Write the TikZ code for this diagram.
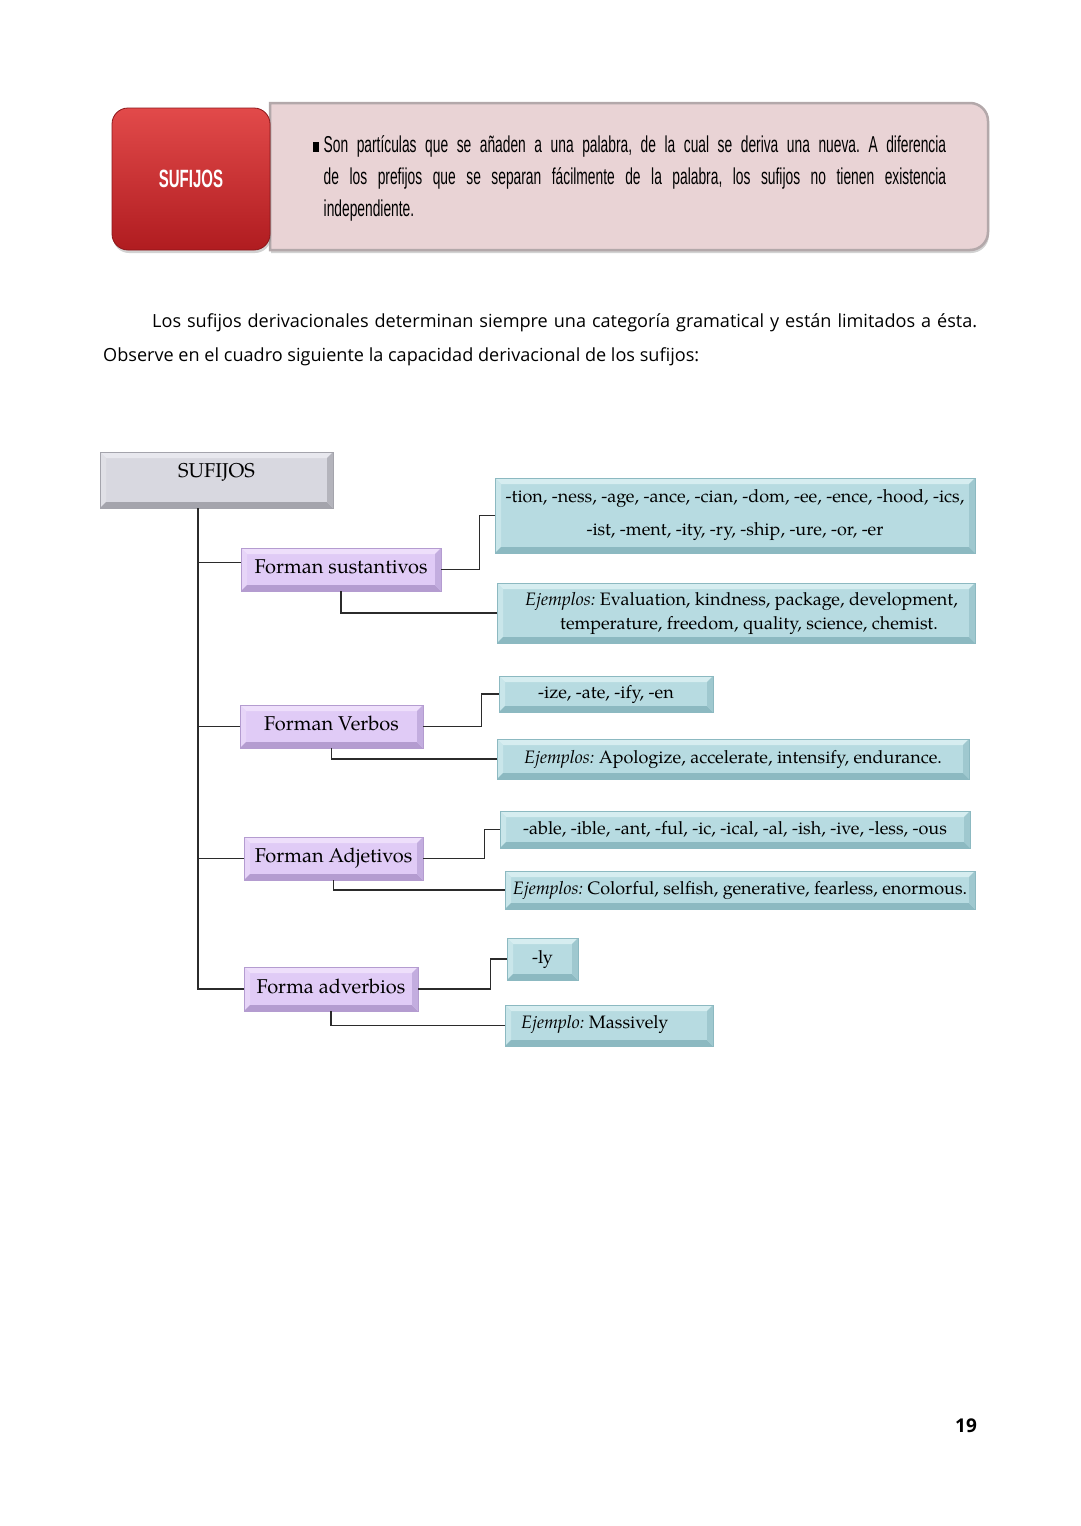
\documentclass[tikz,border=0pt]{standalone}
\usepackage{fontspec}
\setmainfont{TeX Gyre Pagella}
\newfontfamily\parafont{Open Sans}
\newfontfamily\condfont[FakeStretch=0.6]{Liberation Sans}
\usetikzlibrary{shadows,calc}
\frenchspacing
\definecolor{blueM}{HTML}{B7DBE1}
\definecolor{blueT}{HTML}{D6EDF0}
\definecolor{blueL}{HTML}{C9E6EA}
\definecolor{blueB}{HTML}{8CB9C1}
\definecolor{blueR}{HTML}{9FC8CF}
\definecolor{lavM}{HTML}{E0CBF6}
\definecolor{lavT}{HTML}{EEDFFB}
\definecolor{lavL}{HTML}{E7D5F8}
\definecolor{lavB}{HTML}{B49CD0}
\definecolor{lavR}{HTML}{C3ADDF}
\definecolor{grayM}{HTML}{D8D8E0}
\definecolor{grayT}{HTML}{E8E8EE}
\definecolor{grayL}{HTML}{E0E0E6}
\definecolor{grayB}{HTML}{A4A4AC}
\definecolor{grayR}{HTML}{B4B4BC}
\definecolor{redT}{HTML}{E24A4A}
\definecolor{redB}{HTML}{B01C20}
\definecolor{pinkM}{HTML}{E9D3D5}
\definecolor{pinkD}{HTML}{B3A8AA}
\definecolor{lineC}{HTML}{2B2B2B}
\tikzset{
  bev/.style={fill=#1M, draw=#1B, line width=0.8pt, inner sep=0pt, path picture={
    \path (path picture bounding box.north west) coordinate (pnw)
          (path picture bounding box.south east) coordinate (pse)
          (path picture bounding box.north east) coordinate (pne)
          (path picture bounding box.south west) coordinate (psw);
    \fill[#1T] (pnw) -- (pne) -- ([shift={(-6pt,-6pt)}]pne) -- ([shift={(6pt,-6pt)}]pnw) -- cycle;
    \fill[#1L] (pnw) -- ([shift={(6pt,-6pt)}]pnw) -- ([shift={(6pt,6pt)}]psw) -- (psw) -- cycle;
    \fill[#1B] (psw) -- ([shift={(6pt,6pt)}]psw) -- ([shift={(-6pt,6pt)}]pse) -- (pse) -- cycle;
    \fill[#1R] (pse) -- ([shift={(-6pt,6pt)}]pse) -- ([shift={(-6pt,-6pt)}]pne) -- (pne) -- cycle;
  }},
  sz/.style 2 args={minimum width=#1pt, minimum height=#2pt},
  lavbox/.style={bev=lav, font=\fontsize{20}{24}\selectfont, text height=14pt, text depth=6pt},
  bluebox/.style={bev=blue, font=\fontsize{18}{22}\selectfont, align=center},
  conn/.style={draw=lineC, line width=1.8pt},
}
\begin{document}
\begin{tikzpicture}[x=1pt,y=-1pt]
\useasboundingbox (0,0) rectangle (1080,1526);
\fill[white] (0,0) rectangle (1080,1526);

% header
\path[fill=pinkM, draw=pinkD, line width=2.5pt, drop shadow={opacity=0.35, shadow xshift=1pt, shadow yshift=-3pt}]
  (270,103) -- (970,103) arc[start angle=90, end angle=0, radius=18pt] -- (988,232)
  arc[start angle=0, end angle=-90, radius=18pt] -- (270,250) -- cycle;
\node[sz={158}{142}, inner sep=0pt, rounded corners=16pt, top color=redT, bottom color=redB,
  draw=redB!80!black, line width=0.8pt, drop shadow={opacity=0.35, shadow xshift=1pt, shadow yshift=-3pt},
  text=white, font=\condfont\bfseries\fontsize{25}{26}\selectfont] (hdr) at (191,179) {SUFIJOS};
\node[anchor=north west, text width=633pt, align=justify, inner sep=0pt,
  font=\condfont\fontsize{23}{32}\selectfont] (htext) at (313,135)
  {\hangindent=10.5pt\hangafter=1\noindent\makebox[10.5pt][l]{\rule[0pt]{6pt}{10pt}}Son partículas que se añaden a una palabra, de la cual se deriva una nueva. A diferencia\linebreak de los prefijos que se separan fácilmente de la palabra, los sufijos no tienen existencia\linebreak independiente.\par};

% paragraph
\node[anchor=north west, text width=874pt, align=justify, inner sep=0pt,
  font=\parafont\fontsize{18.1}{34}\selectfont] (para) at (103,313)
  {\hspace*{49pt}Los sufijos derivacionales determinan siempre una categoría gramatical y están limitados a ésta.\linebreak Observe en el cuadro siguiente la capacidad derivacional de los sufijos:\par};

% tree
\node[bev=gray, sz={233}{56}, text height=14pt, text depth=20pt,
  font=\fontsize{20}{24}\selectfont] (suf) at (216.5,480) {SUFIJOS};

\node[lavbox, sz={200}{43}] (sus) at (341,569.5) {Forman sustantivos};
\node[lavbox, sz={183}{43}] (verb) at (331.5,726.5) {Forman Verbos};
\node[lavbox, sz={179}{43}] (adj) at (333.5,858.5) {Forman Adjetivos};
\node[lavbox, sz={174}{44}] (adv) at (331,989) {Forma adverbios};

\node[bluebox, sz={480}{75}, font=\fontsize{18}{22}\selectfont] (A1) at (735,515.5)
  {-tion, -ness, -age, -ance, -cian, -dom, -ee, -ence, -hood, -ics,\\[11pt] -ist, -ment, -ity, -ry, -ship, -ure, -or, -er};
\node[bluebox, sz={478}{60}, font=\fontsize{18}{24}\selectfont] (A2) at (736,613)
  {\hspace*{11pt}\textit{Ejemplos:} Evaluation, kindness, package, development,\\ \hspace*{26pt}temperature, freedom, quality, science, chemist.};
\node[bluebox, sz={214}{36}] (B1) at (606,694) {-ize, -ate, -ify, -en};
\node[bluebox, sz={472}{40}] (B2) at (733,759) {\textit{Ejemplos:} Apologize, accelerate, intensify, endurance.};
\node[bluebox, sz={470}{37}] (C1) at (735,829.5) {-able, -ible, -ant, -ful, -ic, -ical, -al, -ish, -ive, -less, -ous};
\node[bluebox, sz={470}{38}] (C2) at (740,890) {\textit{Ejemplos:} Colorful, selfish, generative, fearless, enormous.};
\node[bluebox, sz={71}{42}] (D1) at (542.5,959) {-ly};
\node[bluebox, sz={208}{41}] (D2) at (609,1025.5) {};
\node[anchor=west, inner sep=0pt, font=\fontsize{18}{22}\selectfont] (D2t) at (521,1024) {\textit{Ejemplo:} Massively};

\coordinate (tx) at (198,0);
\draw[conn] (suf.south -| tx) -- (adv.west -| tx) -- (adv.west);
\draw[conn] ([yshift=7pt]sus.west -| tx) -- ([yshift=7pt]sus.west);
\draw[conn] (verb.west -| tx) -- (verb.west);
\draw[conn] (adj.west -| tx) -- (adj.west);

\draw[conn] (sus.east) -- ++(38pt,0) |- (A1.west);
\draw[conn] (sus.south) |- (A2.west);
\draw[conn] (verb.east) -- ++(58pt,0) |- (B1.west);
\draw[conn] (verb.south) |- (B2.west);
\draw[conn] (adj.east) -- ++(61pt,0) |- (C1.west);
\draw[conn] (adj.south) |- (C2.west);
\draw[conn] (adv.east) -- ++(72pt,0) |- (D1.west);
\draw[conn] (adv.south) |- (D2.west);

\node[font=\parafont\bfseries\fontsize{19}{20}\selectfont] (pg) at (966,1426) {19};
\end{tikzpicture}
\end{document}
